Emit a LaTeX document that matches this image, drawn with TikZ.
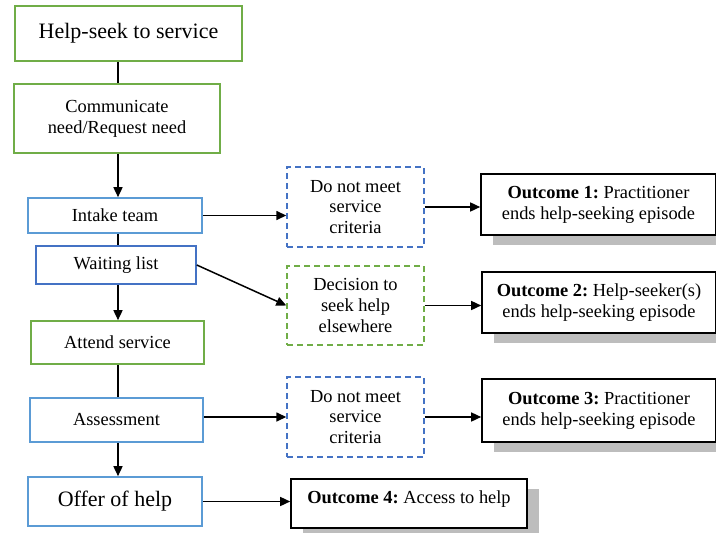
\documentclass[tikz,border=0pt]{standalone}
\usepackage{fontspec}
\setmainfont{Liberation Serif}
\usetikzlibrary{arrows.meta,shadows}
\frenchspacing

\definecolor{boxgreen}{HTML}{70AD47}
\definecolor{lightblue}{HTML}{5B9BD5}
\definecolor{darkblue}{HTML}{4472C4}
\definecolor{shadowgray}{HTML}{BDBDBD}

\tikzset{
  base/.style={rectangle, align=center, inner sep=0pt, text=black},
  bigtext/.style={font=\fontsize{22}{24}\selectfont},
  smalltext/.style={font=\fontsize{18.4}{20.8}\selectfont},
  greenbox/.style={base, draw=boxgreen, line width=1.6pt},
  bluebox/.style={base, draw=lightblue, line width=1.6pt},
  navybox/.style={base, draw=darkblue, line width=1.6pt},
  dashblue/.style={base, draw=darkblue, line width=1.4pt, dash pattern=on 6pt off 4pt},
  dashgreen/.style={base, draw=boxgreen, line width=1.4pt, dash pattern=on 6pt off 4pt},
  outbox/.style={base, draw=black, line width=1.6pt, fill=white,
    drop shadow={shadow xshift=12pt, shadow yshift=-10pt, fill=shadowgray, opacity=1}},
  link/.style={draw=black, line width=1.5pt},
  flow/.style={link, -{Triangle[length=10pt,width=9pt]}},
}

\begin{document}
\begin{tikzpicture}[x=1pt, y=-1pt]
\useasboundingbox (0,0) rectangle (716,533);

% vertical spine of the main path
\coordinate (spine) at (118,0);

% main path
\node[greenbox, bigtext, minimum width=227pt, minimum height=55pt] (title) at (128.5,33.5) {Help-seek to service};
\node[greenbox, smalltext, minimum width=206pt, minimum height=69pt] (comm) at (117,118.5) {Communicate\\need/Request need};
\node[bluebox, smalltext, minimum width=174pt, minimum height=35pt] (intake) at (115,215.5) {Intake team};
\node[navybox, smalltext, minimum width=160pt, minimum height=38pt] (wait) at (116,265) {Waiting list};
\node[greenbox, smalltext, minimum width=173pt, minimum height=43pt] (attend) at (117.5,342.5) {Attend service};
\node[bluebox, smalltext, minimum width=173pt, minimum height=44pt] (assess) at (116.5,420) {Assessment};
\node[bluebox, bigtext, minimum width=174pt, minimum height=49pt] (offer) at (115,501.5) {Offer of help};

% side branches
\node[dashblue, smalltext, minimum width=137pt, minimum height=80pt] (dnm1) at (355.5,207) {Do not meet\\service\\criteria};
\node[dashgreen, smalltext, minimum width=137pt, minimum height=79pt] (dec) at (355.5,305.5) {Decision to\\seek help\\elsewhere};
\node[dashblue, smalltext, minimum width=137pt, minimum height=80pt] (dnm2) at (355.5,417) {Do not meet\\service\\criteria};

% outcomes
\node[outbox, smalltext, minimum width=235pt, minimum height=61pt] (out1) at (598.5,204.5) {\textbf{Outcome 1:} Practitioner\\ends help-seeking episode};
\node[outbox, smalltext, minimum width=234pt, minimum height=61pt] (out2) at (599,302.5) {\textbf{Outcome 2:} Help-seeker(s)\\ends help-seeking episode};
\node[outbox, smalltext, minimum width=234pt, minimum height=63pt] (out3) at (599,410.5) {\textbf{Outcome 3:} Practitioner\\ends help-seeking episode};
\node[outbox, smalltext, minimum width=236pt, minimum height=49pt] (out4) at (409,503.5) {};
\node[smalltext, inner sep=0pt] (out4text) at (409,499) {\textbf{Outcome 4:} Access to help};

% vertical connectors
\draw[link] (title.south -| spine) -- (comm.north -| spine);
\draw[flow] (comm.south -| spine) -- (intake.north -| spine);
\draw[link] (intake.south -| spine) -- (wait.north -| spine);
\draw[flow] (wait.south -| spine) -- (attend.north -| spine);
\draw[link] (attend.south -| spine) -- (assess.north -| spine);
\draw[flow] (assess.south -| spine) -- (offer.north -| spine);

% horizontal connectors
\draw[flow] (intake.east) -- (intake.east -| dnm1.west);
\draw[flow] (dnm1.east) -- (dnm1.east -| out1.west);
\draw[flow] (wait.east) -- (dec.west);
\draw[flow] (dec.east) -- (dec.east -| out2.west);
\draw[flow] (dnm2.west -| assess.east) -- (dnm2.west);
\draw[flow] (dnm2.east) -- (dnm2.east -| out3.west);
\draw[flow] (offer.east) -- (offer.east -| out4.west);
\end{tikzpicture}
\end{document}
